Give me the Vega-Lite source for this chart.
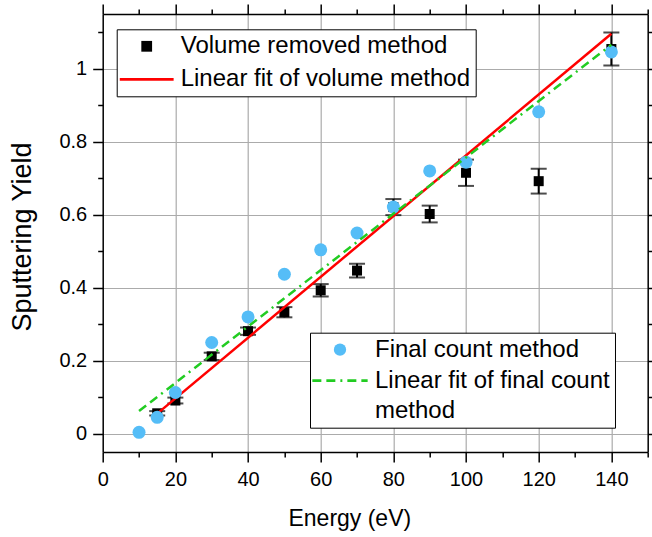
{
  "$schema": "https://vega.github.io/schema/vega-lite/v6.json",
  "width": 545,
  "height": 438,
  "autosize": {"type": "none"},
  "padding": {"left": 102.7, "top": 14, "right": 4.3, "bottom": 84.7},
  "background": "white",
  "config": {"view": {"stroke": null}, "font": "Liberation Sans"},
  "datasets": {
    "vol": [
      {"x": 15, "y": 0.056, "ymin": 0.050, "ymax": 0.062, "series": "Volume removed method"},
      {"x": 20, "y": 0.091, "ymin": 0.083, "ymax": 0.099, "series": "Volume removed method"},
      {"x": 30, "y": 0.212, "ymin": 0.202, "ymax": 0.222, "series": "Volume removed method"},
      {"x": 40, "y": 0.281, "ymin": 0.271, "ymax": 0.291, "series": "Volume removed method"},
      {"x": 50, "y": 0.333, "ymin": 0.319, "ymax": 0.347, "series": "Volume removed method"},
      {"x": 60, "y": 0.393, "ymin": 0.376, "ymax": 0.410, "series": "Volume removed method"},
      {"x": 70, "y": 0.447, "ymin": 0.428, "ymax": 0.466, "series": "Volume removed method"},
      {"x": 80, "y": 0.621, "ymin": 0.599, "ymax": 0.643, "series": "Volume removed method"},
      {"x": 90, "y": 0.602, "ymin": 0.579, "ymax": 0.625, "series": "Volume removed method"},
      {"x": 100, "y": 0.715, "ymin": 0.679, "ymax": 0.751, "series": "Volume removed method"},
      {"x": 120, "y": 0.692, "ymin": 0.658, "ymax": 0.726, "series": "Volume removed method"},
      {"x": 140, "y": 1.054, "ymin": 1.009, "ymax": 1.099, "series": "Volume removed method"}
    ],
    "vfit": [
      {"x": 15, "y": 0.055},
      {"x": 140, "y": 1.096}
    ],
    "fc": [
      {"x": 10, "y": 0.004, "series": "Final count method"},
      {"x": 15, "y": 0.045, "series": "Final count method"},
      {"x": 20, "y": 0.113, "series": "Final count method"},
      {"x": 30, "y": 0.250, "series": "Final count method"},
      {"x": 40, "y": 0.320, "series": "Final count method"},
      {"x": 50, "y": 0.437, "series": "Final count method"},
      {"x": 60, "y": 0.504, "series": "Final count method"},
      {"x": 70, "y": 0.550, "series": "Final count method"},
      {"x": 80, "y": 0.621, "series": "Final count method"},
      {"x": 90, "y": 0.720, "series": "Final count method"},
      {"x": 100, "y": 0.744, "series": "Final count method"},
      {"x": 120, "y": 0.882, "series": "Final count method"},
      {"x": 140, "y": 1.046, "series": "Final count method"}
    ],
    "ffit": [
      {"x": 10, "y": 0.062},
      {"x": 140, "y": 1.066}
    ]
  },
  "layer": [
    {
      "encoding": {
        "x": {
          "field": "x", "type": "quantitative",
          "scale": {"domain": [0, 150], "nice": false, "zero": false},
          "axis": {
            "orient": "bottom", "title": "Energy (eV)",
            "values": [0, 10, 20, 30, 40, 50, 60, 70, 80, 90, 100, 110, 120, 130, 140, 150],
            "labelExpr": "datum.value % 20 === 0 ? datum.label : ''",
            "tickSize": {"condition": {"test": "datum.value % 20 === 0", "value": 10}, "value": 5},
            "grid": true, "gridColor": "#ababab", "gridWidth": 1.2,
            "gridOpacity": {"condition": {"test": "datum.value % 20 === 0 && datum.value > 0 && datum.value < 150", "value": 1}, "value": 0},
            "domainColor": "black", "domainWidth": 1.5, "tickColor": "black", "tickWidth": 1.5,
            "labelFontSize": 20, "labelColor": "black", "labelPadding": 8, "labelOverlap": false, "labelFlush": false, "labelBound": false,
            "titleFontSize": 23, "titleFontWeight": "normal", "titleColor": "black",
            "titleX": 246.6, "titleY": 74, "titleBaseline": "alphabetic", "titleAlign": "center"
          }
        },
        "y": {
          "field": "y", "type": "quantitative",
          "scale": {"domain": [-0.05, 1.15], "nice": false, "zero": false},
          "axis": {
            "orient": "left", "title": "Sputtering Yield",
            "values": [0, 0.1, 0.2, 0.3, 0.4, 0.5, 0.6, 0.7, 0.8, 0.9, 1, 1.1],
            "format": "~g",
            "labelExpr": "round(datum.value*10) % 2 === 0 ? datum.label : ''",
            "tickSize": {"condition": {"test": "round(datum.value*10) % 2 === 0", "value": 10}, "value": 5},
            "grid": true, "gridColor": "#ababab", "gridWidth": 1.2,
            "gridOpacity": {"condition": {"test": "round(datum.value*10) % 2 === 0", "value": 1}, "value": 0},
            "domainColor": "black", "domainWidth": 1.5, "tickColor": "black", "tickWidth": 1.5,
            "labelFontSize": 20, "labelColor": "black", "labelPadding": 6, "labelOverlap": false, "labelFlush": false, "labelBound": false,
            "titleFontSize": 27, "titleFontWeight": "normal", "titleColor": "black",
            "titleX": -72.7, "titleY": 222.5, "titleAngle": 270, "titleBaseline": "alphabetic", "titleAlign": "center"
          }
        }
      },
      "layer": [
        {
          "data": {"name": "vol"},
          "mark": {"type": "errorbar", "color": "black", "ticks": {"size": 16, "thickness": 2}, "rule": {"strokeWidth": 2}},
          "encoding": {
            "y": {
              "field": "ymin", "type": "quantitative",
              "scale": {"domain": [-0.05, 1.15], "nice": false, "zero": false},
              "title": "Sputtering Yield"
            },
            "y2": {"field": "ymax"}
          }
        },
        {
          "data": {"name": "vol"},
          "mark": {"type": "point", "filled": true, "size": 100, "opacity": 1},
          "encoding": {
            "color": {
              "field": "series", "type": "nominal",
              "scale": {"domain": ["Volume removed method", "Linear fit of volume method"], "range": ["black", "#ff0000"]},
              "legend": {
                "title": null, "orient": "none", "legendX": 14, "legendY": 15.3,
                "padding": 5, "rowPadding": 9, "strokeColor": "black", "fillColor": "white",
                "labelFontSize": 24, "labelColor": "black", "labelFont": "Liberation Sans", "labelLimit": 600,
                "symbolSize": 116, "symbolStrokeWidth": 2.8, "symbolOffset": 13, "labelOffset": 22, "symbolOpacity": 1,
                "labelExpr": "datum.label + '   '",
                "encode": {"symbols": {"update": {"stroke": {"signal": "datum.value === 'Linear fit of volume method' ? '#ff0000' : 'transparent'"}}}}
              }
            },
            "shape": {
              "field": "series", "type": "nominal",
              "scale": {"domain": ["Volume removed method", "Linear fit of volume method"], "range": ["square", "M-5,0H5"]},
              "legend": {
                "title": null, "orient": "none", "legendX": 14, "legendY": 15.3,
                "padding": 5, "rowPadding": 9, "strokeColor": "black", "fillColor": "white",
                "labelFontSize": 24, "labelColor": "black", "labelFont": "Liberation Sans", "labelLimit": 600,
                "symbolSize": 116, "symbolStrokeWidth": 2.8, "symbolOffset": 13, "labelOffset": 22, "symbolOpacity": 1,
                "labelExpr": "datum.label + '   '",
                "encode": {"symbols": {"update": {"stroke": {"signal": "datum.value === 'Linear fit of volume method' ? '#ff0000' : 'transparent'"}}}}
              }
            }
          }
        },
        {
          "data": {"name": "vfit"},
          "mark": {"type": "line", "color": "#ff0000", "strokeWidth": 2.5},
          "encoding": {}
        }
      ]
    },
    {
      "encoding": {
        "x": {
          "field": "x", "type": "quantitative",
          "scale": {"domain": [0, 150], "nice": false, "zero": false},
          "axis": {
            "orient": "top", "title": null, "labels": false, "grid": false,
            "values": [0, 10, 20, 30, 40, 50, 60, 70, 80, 90, 100, 110, 120, 130, 140, 150],
            "tickSize": {"condition": {"test": "datum.value % 20 === 0", "value": 10}, "value": 5},
            "domainColor": "black", "domainWidth": 1.5, "tickColor": "black", "tickWidth": 1.5
          }
        },
        "y": {
          "field": "y", "type": "quantitative",
          "scale": {"domain": [-0.05, 1.15], "nice": false, "zero": false},
          "axis": {
            "orient": "right", "title": null, "labels": false, "grid": false,
            "values": [0, 0.1, 0.2, 0.3, 0.4, 0.5, 0.6, 0.7, 0.8, 0.9, 1, 1.1],
            "tickSize": {"condition": {"test": "round(datum.value*10) % 2 === 0", "value": 10}, "value": 5},
            "domainColor": "black", "domainWidth": 1.5, "tickColor": "black", "tickWidth": 1.5
          }
        }
      },
      "layer": [
        {
          "data": {"name": "fc"},
          "mark": {"type": "point", "filled": true, "size": 169, "opacity": 1},
          "encoding": {
            "color": {
              "field": "series", "type": "nominal",
              "scale": {"domain": ["Final count method", "Linear fit of final count method"], "range": ["#55bdf7", "#22cc22"]},
              "legend": {
                "title": null, "orient": "none", "legendX": 207.3, "legendY": 318.7,
                "padding": 5, "rowPadding": 7, "strokeColor": "black", "fillColor": "white",
                "labelFontSize": 24, "labelColor": "black", "labelFont": "Liberation Sans", "labelLimit": 600,
                "symbolSize": 151, "symbolStrokeWidth": 2.8, "symbolOffset": 13, "labelOffset": 23, "symbolOpacity": 1,
                "labelExpr": "datum.label === 'Linear fit of final count method' ? ['Linear fit of final count   ', 'method'] : datum.label",
                "encode": {
                  "symbols": {"update": {
                    "stroke": {"signal": "datum.value === 'Linear fit of final count method' ? '#22cc22' : 'transparent'"},
                    "strokeDash": {"signal": "datum.value === 'Linear fit of final count method' ? [9,5,9,5,2,5] : [1,0]"}
                  }},
                  "labels": {"update": {"lineHeight": {"value": 30}}}
                }
              }
            },
            "shape": {
              "field": "series", "type": "nominal",
              "scale": {"domain": ["Final count method", "Linear fit of final count method"], "range": ["circle", "M-4.5,0H4.5"]},
              "legend": {
                "title": null, "orient": "none", "legendX": 207.3, "legendY": 318.7,
                "padding": 5, "rowPadding": 7, "strokeColor": "black", "fillColor": "white",
                "labelFontSize": 24, "labelColor": "black", "labelFont": "Liberation Sans", "labelLimit": 600,
                "symbolSize": 151, "symbolStrokeWidth": 2.8, "symbolOffset": 13, "labelOffset": 23, "symbolOpacity": 1,
                "labelExpr": "datum.label === 'Linear fit of final count method' ? ['Linear fit of final count   ', 'method'] : datum.label",
                "encode": {
                  "symbols": {"update": {
                    "stroke": {"signal": "datum.value === 'Linear fit of final count method' ? '#22cc22' : 'transparent'"},
                    "strokeDash": {"signal": "datum.value === 'Linear fit of final count method' ? [9,5,9,5,2,5] : [1,0]"}
                  }},
                  "labels": {"update": {"lineHeight": {"value": 30}}}
                }
              }
            }
          }
        },
        {
          "data": {"name": "ffit"},
          "mark": {"type": "line", "color": "#22cc22", "strokeWidth": 2.5, "strokeDash": [9, 5, 9, 5, 2, 5]},
          "encoding": {}
        }
      ]
    }
  ],
  "resolve": {
    "scale": {"color": "independent", "shape": "independent"},
    "axis": {"x": "independent", "y": "independent"}
  }
}
